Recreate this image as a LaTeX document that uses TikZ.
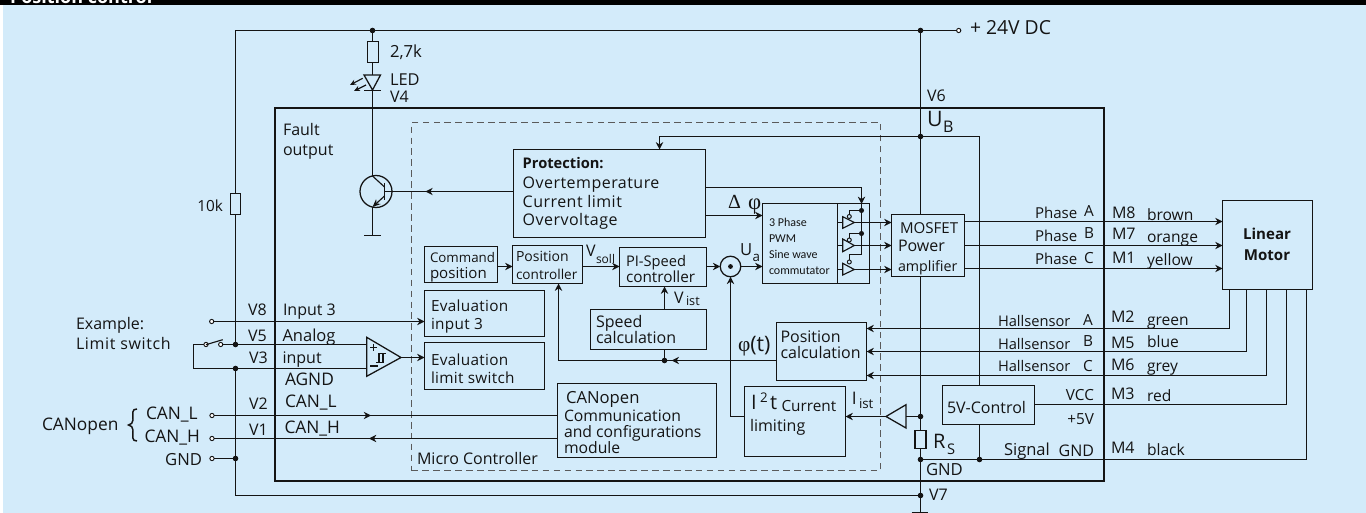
\documentclass[tikz,border=0pt]{standalone}
\usepackage{fontspec}
\setmainfont{Open Sans}
\newfontfamily\symf{Liberation Serif}
\newfontfamily\narrowf{Carlito}
\usetikzlibrary{arrows.meta,fit,decorations.markings}
\definecolor{bgblue}{HTML}{D3EBFA}
\definecolor{ink}{HTML}{141414}
\newcounter{tc}
\newcommand\tx[4][]{\stepcounter{tc}\node[lab,#1] (t\thetc) at (#2,#3) {#4};}
\newcommand\bx[6][]{\node[boxed,fit={(#3,#4)(#5,#6)},#1] (#2) {};}
\newcommand\spc[1]{\addfontfeature{LetterSpace=#1}}
\newcommand\fs[1]{\fontsize{#1}{#1}\selectfont}
\tikzset{
 x=0.75pt,y=-0.75pt,
 tipa/.tip={Stealth[length=5.5pt,width=5.5pt,inset=1.8pt]},
 wire/.style={draw=ink,line width=0.85pt},
 arr/.style={wire,-{tipa}},
 boxed/.style={draw=ink,line width=0.95pt,inner sep=0pt,outer sep=0pt},
 lab/.style={anchor=mid west,inner sep=0pt,outer sep=0pt,text=ink,yshift=-1.5pt,font=\fontsize{12}{13}\selectfont},
 labr/.style={lab,anchor=mid east},
 jn/.style={circle,fill=ink,draw=none,inner sep=0pt,minimum size=4.2pt,outer sep=0pt},
 term/.style={circle,fill=white,draw=ink,line width=0.7pt,inner sep=0pt,minimum size=3.2pt,outer sep=0pt},
 midtip/.style={postaction={decorate,decoration={markings,mark=at position #1 with {\arrow{tipa}}}}},
}
\begin{document}
\begin{tikzpicture}
\useasboundingbox (0,0) rectangle (1366,513);
\fill[white] (0,0) rectangle (1366,513);
\fill[bgblue] (3,5) rectangle (1366,513);
\fill[black] (0,0) rectangle (1366,5);
\begin{scope}
\clip (0,0) rectangle (1366,5);
\node[lab,anchor=base west,text=white,font=\fontsize{13.5}{14}\selectfont\bfseries] (title) at (10,1.5) {Position control};
\end{scope}

% main frames
\node[fit={(275,108)(1104,481)},draw=ink,line width=1.8pt,inner sep=0pt] (chip) {};
\node[fit={(411.5,122.5)(880.5,470.5)},draw=ink!70,line width=0.8pt,dash pattern=on 5pt off 3.2pt,inner sep=0pt] (mcu) {};

% boxes
\bx{r27}{367.5}{41.5}{378.5}{62.5}
\bx{r10k}{230.5}{193.5}{240.5}{214.5}
\bx{prot}{513.5}{149.5}{705.5}{237.5}
\bx{cmd}{424.5}{246.5}{497.5}{282.5}
\bx{posc}{512.5}{245.5}{582.5}{283.5}
\bx{pis}{619.5}{247.5}{706.5}{286.5}
\bx{pwm}{762.5}{203.5}{837.5}{283.5}
\bx{drv}{837.5}{203.5}{869.5}{283.5}
\bx{mos}{891.5}{214.5}{964.5}{276.5}
\bx{motor}{1222.5}{200.5}{1312.5}{289.5}
\bx{evi}{424.5}{290.5}{544.5}{336.5}
\bx{evl}{424.5}{342.5}{544.5}{389.5}
\bx{spd}{590.5}{309.5}{706.5}{349.5}
\bx{pcal}{776.5}{322.5}{866.5}{380.5}
\bx{can}{557.5}{383.5}{716.5}{457.5}
\bx{i2t}{744.5}{386.5}{845.5}{456.5}
\bx{ctl}{942.5}{385.5}{1034.5}{424.5}
\bx{rs}{915}{430.5}{926}{448.5}

% summing point
\node[circle,draw=ink,line width=0.95pt,minimum size=15.4pt,inner sep=0pt,outer sep=0pt] (sum) at (730.5,266.5) {};
\fill[ink] (sum.center) circle[radius=2.4];

% transistor
\node[circle,draw=ink,line width=0.95pt,minimum size=24pt,inner sep=0pt,outer sep=0pt] (tr) at (376,191.5) {};
\coordinate (trb) at (384.5,191.5);
\coordinate (trc) at (372.5,176);
\coordinate (tre) at (372.5,207);
\draw[wire,line width=1.1pt] (384.5,183) -- (384.5,200);
\draw[wire] (trc) -- (384.5,187);
\draw[wire,-{Stealth[length=6pt,width=5pt]}] (384.5,196) -- (tre);

% junctions and terminals
\node[jn] (jled) at (372.5,30.5) {};
\node[jn] (j24) at (920.5,30.5) {};
\node[term] (t24v) at (958.7,30.5) {};
\coordinate (ctop) at (235.5,30.5);
\node[jn] (jub) at (920.5,136.5) {};
\coordinate (cub) at (979.5,136.5);
\node[jn] (ja) at (235.5,344.5) {};
\node[jn] (jb) at (235.5,368.5) {};
\node[jn] (jg) at (235.5,458.5) {};
\coordinate (cb) at (235.5,495.5);
\node[jn] (j7) at (920.5,495.5) {};
\node[jn] (jbuf) at (920.5,416.5) {};
\node[jn] (js) at (920.5,459.5) {};
\node[jn] (jc) at (979.5,459.5) {};
\coordinate (gnd7) at (920.5,512.5);
\node[term] (tv8) at (211.7,321.5) {};
\node[term] (tsw1) at (206,344.5) {};
\node[term] (tsw2) at (220.7,344.5) {};
\node[term] (tcl) at (212,415.5) {};
\node[term] (tch) at (212,438.5) {};
\node[term] (tgn) at (212,458.5) {};
\coordinate (sw) at (193.5,344.5);
\coordinate (sw2) at (193.5,368.5);
\node[jn] (jsp) at (664.5,360.5) {};
\node[jn,minimum size=3.8pt] (jd1) at (861.5,210.5) {};
\node[jn,minimum size=3.8pt] (jd2) at (861.5,233.5) {};
\coordinate (jd3) at (861.5,254.5);
\coordinate (ccorner) at (861.5,187.5);
\coordinate (cposu) at (558.5,360.5);
\coordinate (ci2t) at (730.5,416.5);

% comparator and buffer
\draw[wire,line width=0.95pt] (366.7,337.3) -- (366.7,376.3) -- (401,357.5) -- cycle;
\coordinate (cmpo) at (401,357.5);
\draw[wire] (373.5,343.8) -- (373.5,350.8) (370,347.3) -- (377,347.3);
\draw[wire] (370,366) -- (378,366);
\draw[wire] (376,362.7) -- (383,362.7) (379,362.7) -- (379,353.3) (379,353.3) -- (386,353.3) (383,353.3) -- (383,362.7);
\draw[wire,line width=0.95pt] (886,416.5) -- (906,404.7) -- (906,428) -- cycle;
\coordinate (buft) at (886,416.5);
\coordinate (bufb) at (906,416.5);

% top rail
\draw[wire] (r10k.north) -- (r10k.north |- ctop) -- (jled) -- (j24) -- (t24v);
\draw[wire] (jled) -- (jled |- r27.north);
% led
\draw[wire,line width=0.95pt] (364,75) -- (380.5,75) -- (372.5,90) -- cycle;
\draw[wire,line width=0.95pt] (364,90.5) -- (381,90.5);
\draw[wire] (jled |- r27.south) -- (372.5,75);
\draw[wire] (372.5,90) -- (trc);
\draw[wire,-{Stealth[length=4.5pt,width=4pt]}] (362.7,78.3) -- (350,85);
\draw[wire,-{Stealth[length=4.5pt,width=4pt]}] (366,85) -- (354,91);
\draw[wire] (tre) -- (372.5,235.5);
\draw[wire,line width=0.95pt] (364,235.5) -- (381,235.5);

% left rail
\draw[wire] (r10k.south) -- (ja);
\draw[wire] (jb) -- (jg) -- (cb) -- (j7);
\draw[wire] (tgn) -- (jg);
% inputs
\draw[arr] (tv8) -- (evi.west |- tv8);
\draw[wire] (tsw2) -- (ja) -- (366.7,344.5);
\draw[wire] (tsw1) -- (sw) -- (sw2) -- (jb) -- (366.7,368.5);
\draw[wire] (206,344.7) -- (222.7,339.7);
\draw[arr] (cmpo) -- (evl.west |- cmpo);
\draw[wire,midtip=0.457] (tcl) -- (can.west |- tcl);
\draw[wire,midtip=0.549] (can.west |- tch) -- (tch);
\draw[wire,line width=1.1pt] (137,409) .. controls (131.5,409) and (133,413) .. (133,420) .. controls (133,423) and (131,424.5) .. (128.5,425) .. controls (131,425.5) and (133,427) .. (133,430) .. controls (133,437) and (131.5,441) .. (137,441);

% supply
\draw[wire] (j24) -- (jub) -- (jub |- mos.north);
\draw[wire] (jub |- mos.south) -- (jbuf) -- (jbuf |- rs.north);
\draw[wire] (jbuf |- rs.south) -- (js) -- (j7) -- (gnd7);
\draw[wire,line width=0.95pt] (911.7,512.5) -- (928,512.5);
\draw[wire] (jub) -- (cub) -- (cub |- ctl.north);
\draw[wire] (cub |- ctl.south) -- (jc);
\draw[arr] (jub) -- (659.5,136.5) -- (659.5,149.5);
\draw[wire] (js) -- (jc) -- (1306.5,459.5) -- (1306.5,289.5);
\draw[wire] (ctl.east |- 0,404.5) -- (1286.5,404.5) -- (1286.5,289.5);

% protection
\draw[wire,midtip=0.683] (prot.west |- trb) -- (trb);
\draw[arr] (705.5,187.5) -- (ccorner) -- (861.5,204);
\draw[wire] (861.5,204) -- (jd1) -- (jd2) -- (jd3);
\draw[arr] (705.5,215.5) -- (762.5,215.5);

% chain
\draw[arr] (cmd.east |- 0,266.5) -- (posc.west |- 0,266.5);
\draw[arr] (posc.east |- 0,266.5) -- (pis.west |- 0,266.5);
\draw[arr] (pis.east |- 0,266.5) -- (sum.west);
\draw[arr] (sum.east) -- (pwm.west |- sum.east);
\draw[arr] (spd.north -| jsp) -- (jsp |- pis.south);
\draw[wire] (spd.south -| jsp) -- (jsp);
\draw[wire,midtip=0.96] (pcal.west |- jsp) -- (jsp);
\draw[arr] (jsp) -- (cposu) -- (cposu |- posc.south);
\draw[arr] (i2t.west |- ci2t) -- (ci2t) -- (sum.south);
\draw[arr] (buft) -- (i2t.east |- buft);
\draw[wire] (bufb) -- (jbuf);

% drivers
\draw[wire] (842.7,216.7) -- (842.7,228.3) -- (854.3,222.5) -- cycle;
\draw[wire] (842.7,239) -- (842.7,251.7) -- (854.3,245.5) -- cycle;
\draw[wire] (842.7,263.3) -- (842.7,275) -- (854.3,269.5) -- cycle;
\node[term,fill=bgblue,minimum size=3pt] (b1) at (849.3,216.5) {};
\node[term,fill=bgblue,minimum size=3pt] (b2) at (849.3,240) {};
\node[term,fill=bgblue,minimum size=3pt] (b3) at (849.3,262) {};
\draw[wire] (b1) -- (849.3,210.5) -- (jd1);
\draw[wire] (b2) -- (849.3,233.5) -- (jd2);
\draw[wire] (b3) -- (849.3,254.5) -- (jd3);
\draw[wire] (drv.west |- 0,222.5) -- (842.7,222.5);
\draw[wire] (drv.west |- 0,245.5) -- (842.7,245.5);
\draw[wire] (drv.west |- 0,269.5) -- (842.7,269.5);
\draw[arr] (854.3,222.5) -- (mos.west |- 0,222.5);
\draw[arr] (854.3,245.5) -- (mos.west |- 0,245.5);
\draw[arr] (854.3,269.5) -- (mos.west |- 0,269.5);

% motor
\draw[arr] (mos.east |- 0,221.5) -- (motor.west |- 0,221.5);
\draw[arr] (mos.east |- 0,245.5) -- (motor.west |- 0,245.5);
\draw[arr] (mos.east |- 0,268.5) -- (motor.west |- 0,268.5);
\draw[arr] (1229.5,289.5) -- (1229.5,328.5) -- (pcal.east |- 0,328.5);
\draw[arr] (1246.5,289.5) -- (1246.5,351.5) -- (pcal.east |- 0,351.5);
\draw[arr] (1266.5,289.5) -- (1266.5,375.5) -- (pcal.east |- 0,375.5);

% labels left
\tx{390}{52}{\fs{12.5}2,7k}
\tx{390}{80}{\fs{12.3}LED}
\tx{390}{97}{V4}
\tx{283}{130}{Fault}
\tx{283}{150}{output}
\tx[labr]{223}{204}{\fs{11.5}10k}
\tx{76}{324}{Example:}
\tx{76}{344}{\spc{4}Limit switch}
\tx{42}{425}{\fs{13}CANopen}
\tx{146}{414}{\fs{13}CAN\_L}
\tx{144.5}{437}{\fs{13}CAN\_H}
\tx[labr]{202}{458}{\fs{12.5}GND}
\tx{248}{310}{V8}
\tx{283}{310}{Input 3}
\tx{248}{336}{V5}
\tx{282.5}{336}{\fs{12.4}Analog}
\tx{249}{358}{V3}
\tx{282.5}{358}{input}
\tx{285}{380}{\fs{13}AGND}
\tx{249}{404}{V2}
\tx{285}{402}{\fs{13}CAN\_L}
\tx{249}{430}{V1}
\tx{284.5}{428}{\fs{13}CAN\_H}
% inner
\tx{430}{257}{\fs{10}Command}
\tx{430}{273}{\fs{11.3}position}
\tx{516}{256}{\fs{10.5}Position}
\tx{516}{274}{\fs{10.2}controller}
\tx{626}{261}{\fs{11}PI-Speed}
\tx{626}{277}{\fs{11.5}controller}
\tx{431}{306}{\fs{11.5}\spc{2}Evaluation}
\tx{431}{324}{\fs{11.5}\spc{2}input 3}
\tx{431}{360}{\fs{11.5}\spc{2}Evaluation}
\tx{431}{378}{\fs{11.5}\spc{2}limit switch}
\tx{596}{322}{Speed}
\tx{596}{338}{calculation}
\tx{780.5}{337}{Position}
\tx{780.5}{352.5}{calculation}
\tx{566}{397.5}{\fs{12.5}CANopen}
\tx{564}{416}{\fs{11.8}Communication}
\tx{564}{432}{\fs{11.8}and configurations}
\tx{564}{447.5}{\fs{11.8}module}
\tx{417}{458.7}{Micro Controller}
\tx{522.7}{163}{\fs{11}\bfseries Protection:}
\tx{522.7}{183}{\spc{3}Overtemperature}
\tx{522.7}{202}{\spc{3}Current limit}
\tx{522.7}{220}{\spc{3}Overvoltage}
\tx{728}{203}{\symf\fs{15}Δ}
\tx{748}{204}{\symf\fs{17}φ}
\tx{586}{251}{\fs{12}V}
\tx{596}{258}{\fs{9}soll}
\tx{740}{250}{\fs{12.5}U}
\tx{752.5}{256}{\fs{10}a}
\tx{674}{298}{\fs{12}V}
\tx{686}{300}{\fs{9.5}ist}
\tx{738}{346}{\fs{16}{\symf φ}(t)}
\tx{851.8}{399}{\fs{13}I}
\tx{859}{403}{\fs{10}ist}
\tx{751}{404}{\fs{15}I}
\tx{760}{397}{\fs{10}2}
\tx{770}{404}{\fs{15}t}
\tx{781.5}{406}{\fs{11.5}Current}
\tx{750}{426}{limiting}
\tx{769}{221}{\narrowf\fs{9}3 Phase}
\tx{769}{237}{\narrowf\fs{9}PWM}
\tx{769}{253}{\narrowf\fs{9}Sine wave}
\tx{769}{269}{\narrowf\fs{9}commutator}
\tx{900}{228}{\fs{11.3}MOSFET}
\tx{898}{246}{Power}
\tx{898}{266}{\fs{10.7}amplifier}
\tx{947}{408}{5V-Control}
% right
\tx{970}{29}{\fs{14.5}+ 24V DC}
\tx{927}{96}{V6}
\tx{927}{121}{\fs{16}U}
\tx{943}{127}{B}
\tx{1035}{213}{\fs{11.3}Phase}
\tx{1084}{211}{\fs{11.5}A}
\tx{1035}{236}{\fs{11.3}Phase}
\tx{1084}{233}{\fs{11.5}B}
\tx{1035}{259}{\fs{11.3}Phase}
\tx{1084}{258}{\fs{11.5}C}
\tx{1112}{213}{M8}
\tx{1147}{215}{\fs{11.7}brown}
\tx{1112}{234}{M7}
\tx{1147}{237}{\fs{11.7}orange}
\tx{1112}{258}{M1}
\tx{1147}{260}{\fs{11.7}yellow}
\tx[anchor=mid]{1267}{234}{\fs{11.3}\bfseries Linear}
\tx[anchor=mid]{1267}{255}{\fs{11.3}\bfseries Motor}
\tx{998}{321}{\fs{11}Hallsensor}
\tx{1083}{320}{\fs{11.5}A}
\tx{1111}{317}{M2}
\tx{1147}{320}{\fs{11.7}green}
\tx{998}{344}{\fs{11}Hallsensor}
\tx{1083}{341}{\fs{11.5}B}
\tx{1111}{343}{M5}
\tx{1147}{342}{\fs{11.7}blue}
\tx{998}{366}{\fs{11}Hallsensor}
\tx{1083}{366}{\fs{11.5}C}
\tx{1111}{365}{M6}
\tx{1147}{366}{\fs{11.7}grey}
\tx[labr]{1094}{393}{\fs{11.5}VCC}
\tx{1111}{394}{M3}
\tx{1147}{396}{\fs{11.7}red}
\tx[labr]{1094}{417}{\fs{11.5}+5V}
\tx{1004}{450}{\fs{12.4}Signal}
\tx[labr]{1094}{449}{GND}
\tx{1111}{448}{M4}
\tx{1147}{450}{\fs{11.7}black}
\tx{933}{443}{\fs{15}R}
\tx{947}{449}{\fs{11}S}
\tx{926}{470}{\fs{12.5}GND}
\tx{929}{495}{V7}
\end{tikzpicture}
\end{document}
